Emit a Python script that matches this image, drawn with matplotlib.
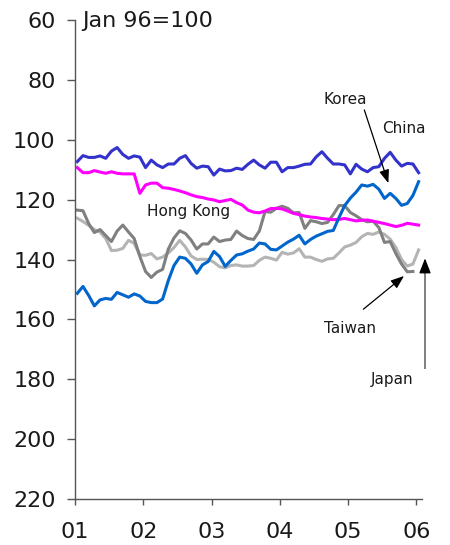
import matplotlib
matplotlib.use("Agg")
import matplotlib.pyplot as plt
import numpy as np

plt.rcParams['font.family'] = ['DejaVu Sans']

# Monthly index values (Jan 96 = 100), Jan 2001 onward
china = [107.3, 105.3, 105.9, 105.9, 105.4, 106.2, 103.8, 102.6, 104.9, 106.2,
         105.4, 105.8, 109.3, 106.8, 108.4, 109.3, 108.1, 108.1, 106.2, 105.3,
         107.9, 109.5, 108.8, 109.0, 111.8, 109.8, 110.4, 110.3, 109.5, 109.9,
         108.2, 106.8, 108.4, 109.5, 107.5, 107.5, 110.7, 109.3, 109.3, 108.8,
         108.2, 108.1, 105.7, 104.0, 106.2, 108.1, 108.1, 108.4, 111.4, 108.2,
         109.8, 110.7, 109.3, 109.0, 106.2, 104.2, 106.8, 108.8, 107.9, 108.1,
         111.0]
hong_kong = [109.3, 111.0, 111.0, 110.3, 110.8, 111.2, 110.7, 111.2, 111.4, 111.4,
             111.4, 117.9, 115.1, 114.5, 114.5, 116.0, 116.2, 116.6, 117.1, 117.7,
             118.4, 119.0, 119.3, 119.8, 120.1, 120.7, 120.3, 119.9, 121.0, 121.8,
             123.5, 124.2, 124.4, 123.8, 123.0, 122.9, 123.1, 123.8, 124.6, 125.0,
             125.5, 125.8, 126.0, 126.3, 126.5, 126.7, 126.6, 126.3, 126.7, 127.1,
             126.9, 126.8, 127.2, 127.6, 128.0, 128.5, 129.0, 128.6, 127.9, 128.2,
             128.5]
korea = [151.3, 149.0, 152.0, 155.5, 153.5, 153.0, 153.3, 151.0, 151.8, 152.6,
         151.5, 152.2, 154.0, 154.4, 154.4, 153.2, 147.0, 142.0, 139.2, 139.6,
         141.5, 144.6, 141.8, 140.7, 137.3, 139.0, 142.3, 140.3, 138.5, 138.1,
         137.2, 136.5, 134.5, 134.8, 136.6, 136.8, 135.5, 134.2, 133.2, 131.9,
         134.8, 133.3, 132.2, 131.4, 130.6, 130.3, 126.0, 122.0, 119.5, 117.5,
         115.1, 115.5, 114.9, 116.5, 119.6, 117.9, 119.6, 121.9, 121.3, 118.6,
         114.0]
taiwan = [123.5, 123.7, 128.0, 131.0, 130.0, 132.0, 134.0, 130.5, 128.5, 130.8,
          133.0, 139.0, 144.0, 146.0, 144.2, 143.3, 136.5, 132.8, 130.4, 131.3,
          133.5, 136.5, 134.8, 134.8, 132.5, 134.0, 133.5, 133.3, 130.5, 132.0,
          133.0, 133.3, 130.5, 124.0, 124.2, 122.9, 122.2, 122.9, 124.4, 124.3,
          129.6, 127.0, 127.4, 128.0, 127.6, 125.0, 122.0, 122.0, 124.3, 125.4,
          126.7, 127.4, 127.2, 129.3, 134.3, 134.0, 138.0, 141.5, 144.1, 144.0]
japan = [126.2, 127.3, 128.6, 130.0, 130.8, 133.0, 137.0, 136.9, 136.3, 133.6,
         134.6, 138.5, 138.6, 138.0, 139.8, 139.2, 137.8, 136.0, 133.6, 135.8,
         138.8, 140.0, 139.9, 140.0, 140.9, 142.4, 142.8, 142.0, 141.8, 142.2,
         142.2, 142.0, 140.3, 139.2, 139.6, 140.2, 137.6, 138.2, 137.8, 136.4,
         139.2, 139.2, 140.0, 140.6, 139.8, 139.6, 137.8, 135.8, 135.2, 134.3,
         132.4, 131.3, 131.6, 130.8, 131.6, 133.2, 136.0, 140.0, 142.2, 141.5,
         136.8]

year_ticks = [2001, 2002, 2003, 2004, 2005, 2006]
year_labels = ["01", "02", "03", "04", "05", "06"]
y_ticks = [60, 80, 100, 120, 140, 160, 180, 200, 220]


def months_to_x(n):
    return 2001 + (np.arange(n) + 0.4) / 12.0


fig = plt.figure(figsize=(4.5, 5.45), dpi=100)
ax = fig.add_axes([0.1667, 0.0844, 0.9378 - 0.1667, 0.9633 - 0.0844])

lw = 2.2
ax.plot(months_to_x(len(japan)), japan, color="#B4B4B4", lw=lw, solid_joinstyle="round")
ax.plot(months_to_x(len(taiwan)), taiwan, color="#808080", lw=lw, solid_joinstyle="round")
ax.plot(months_to_x(len(hong_kong)), hong_kong, color="#FF00FF", lw=lw, solid_joinstyle="round")
ax.plot(months_to_x(len(korea)), korea, color="#0066CC", lw=lw, solid_joinstyle="round")
ax.plot(months_to_x(len(china)), china, color="#3333CC", lw=lw, solid_joinstyle="round")

ax.set_xlim(2001, 2006.083)
ax.set_ylim(220, 60)
ax.set_yticks(y_ticks)
ax.set_xticks(year_ticks)
ax.set_xticklabels(year_labels)

for s in ["top", "right"]:
    ax.spines[s].set_visible(False)
for s in ["left", "bottom"]:
    ax.spines[s].set_color("#555555")
    ax.spines[s].set_linewidth(1.0)

ax.tick_params(axis="y", direction="out", length=6, width=1, color="#555555",
               labelsize=16, pad=8, labelcolor="#1a1a1a")
ax.tick_params(axis="x", direction="out", length=4.5, width=1, color="#555555",
               labelsize=16, pad=12, labelcolor="#1a1a1a")

ax.text(2001.1, 62.2, "Jan 96=100", fontsize=16, color="#1a1a1a", va="baseline", ha="left")

lab_kw = dict(fontsize=11, color="#1a1a1a", ha="center", va="center")
ax.text(2004.955, 86.4, "Korea", **lab_kw)
ax.text(2005.82, 96.1, "China", **lab_kw)
ax.text(2002.67, 124.1, "Hong Kong", **lab_kw)
ax.text(2005.03, 163.2, "Taiwan", **lab_kw)
ax.text(2005.645, 180.2, "Japan", **lab_kw)

ax.annotate("", xy=(2005.59, 114.5), xytext=(2005.238, 90.06),
            arrowprops=dict(arrowstyle="-|>,head_length=0.8,head_width=0.3",
                            color="black", lw=0.9, shrinkA=0, shrinkB=0),
            annotation_clip=False)
ax.annotate("", xy=(2005.82, 145.5), xytext=(2005.224, 156.6),
            arrowprops=dict(arrowstyle="-|>,head_length=0.8,head_width=0.3",
                            color="black", lw=0.9, shrinkA=0, shrinkB=0),
            annotation_clip=False)
# Japan arrow: grey shaft, black head
ax.plot([2006.127, 2006.127], [176.3, 143.0], color="#808080", lw=1.4, clip_on=False)
ax.annotate("", xy=(2006.127, 139.6), xytext=(2006.127, 143.5),
            arrowprops=dict(arrowstyle="-|>,head_length=0.9,head_width=0.35",
                            color="black", lw=1.0, shrinkA=0, shrinkB=0),
            annotation_clip=False)

fig.savefig("out.png", dpi=100)
